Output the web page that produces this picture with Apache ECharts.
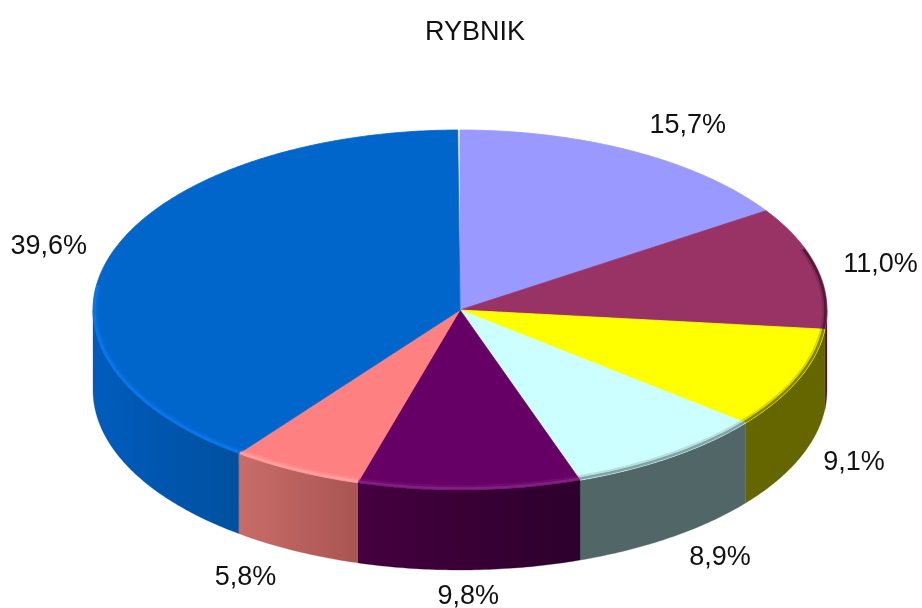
<!DOCTYPE html>
<html>
<head>
<meta charset="utf-8">
<title>RYBNIK</title>
<script src="https://cdn.jsdelivr.net/npm/echarts@6/dist/echarts.min.js"></script>
<style>
    html, body { margin: 0; padding: 0; background: #fff; }
    #chart { width: 922px; height: 608px; }
</style>
</head>
<body>
<div id="chart"></div>
<script>
// udzial procentowy, od godziny 12 zgodnie z zegarem
var chartTitle = 'RYBNIK';
var sliceValues = [15.7, 11.0, 9.1, 8.9, 9.8, 5.8, 39.6];

var topColors = ['#9999ff', '#993366', '#ffff00', '#ccffff', '#660066', '#ff8080', '#0066cc'];
var sideLeft = ['#5c5c99', '#5c1f3d', '#666600', '#516666', '#45003f', '#c96c69', '#005cbc'];
var sideRight = ['#5c5c99', '#4a1a38', '#666600', '#516666', '#2c002c', '#a95552', '#00509f'];
var rimColors = ['#9999ff', '#3d1429', '#5c5c00', '#6f8585', '#8a2a8a', '#ffaaaa', '#0a7cf4'];
// przesuniecie etykiety wzgledem krawedzi wycinka
var labelNudge = [[54, -26], [64, -3], [55, 84], [49, 100], [-1, 107], [-50, 107], [-63, -7]];

var cx = 460, cy = 310, rx = 367, ry = 180, depth = 80;

function pointAt(deg, a, b, dy) {
    var t = deg * Math.PI / 180;
    return [cx + a * Math.sin(t), cy - b * Math.cos(t) + dy];
}

function arcPoints(from, to, a, b, dy) {
    var pts = [];
    var n = Math.max(2, Math.ceil((to - from) * 1.5));
    for (var i = 0; i <= n; i++) {
        pts.push(pointAt(from + (to - from) * i / n, a, b, dy));
    }
    return pts;
}

var sliceData = [];
var acc = 0;
sliceValues.forEach(function (v, i) {
    var next = acc + v;
    sliceData.push([acc * 3.6, next * 3.6, i, v]);
    acc = next;
});

function renderSide(params, api) {
    var from = Math.max(api.value(0), 90);
    var to = Math.min(api.value(1), 270);
    var i = api.value(2);
    if (to <= from) { return null; }
    var upper = arcPoints(from, to, rx, ry, 0);
    var lower = arcPoints(from, to, rx, ry, depth).reverse();
    var xA = upper[0][0], xB = upper[upper.length - 1][0];
    // lewa strona jasniejsza
    var fill = new echarts.graphic.LinearGradient(Math.min(xA, xB), 0, Math.max(xA, xB), 0, [
        {offset: 0, color: sideLeft[i]},
        {offset: 1, color: sideRight[i]}
    ], true);
    return {
        type: 'polygon',
        shape: {points: upper.concat(lower)},
        style: {fill: fill, stroke: sideRight[i], lineWidth: 0.3}
    };
}

function renderTop(params, api) {
    var from = api.value(0), to = api.value(1), i = api.value(2);
    var pts = [[cx, cy]].concat(arcPoints(from, to, rx, ry, 0));
    return {
        type: 'polygon',
        shape: {points: pts},
        style: {fill: topColors[i], stroke: topColors[i], lineWidth: 0.8}
    };
}

function renderRim(params, api) {
    var from = Math.max(api.value(0), 70);
    var to = Math.min(api.value(1), 278);
    var i = api.value(2);
    if (to <= from) { return null; }
    return {
        type: 'group',
        children: [
            {
                type: 'polyline',
                shape: {points: arcPoints(from, to, rx - 3.5, ry - 3.5, 0)},
                style: {fill: null, stroke: rimColors[i], lineWidth: 3, opacity: 0.25}
            },
            {
                type: 'polyline',
                shape: {points: arcPoints(from, to, rx - 1.5, ry - 1.5, 0)},
                style: {fill: null, stroke: rimColors[i], lineWidth: 2.5, opacity: 0.75}
            }
        ]
    };
}

function renderLabel(params, api) {
    var mid = (api.value(0) + api.value(1)) / 2;
    var i = api.value(2);
    var base = pointAt(mid, rx, ry, 0);
    return {
        type: 'text',
        x: base[0] + labelNudge[i][0],
        y: base[1] + labelNudge[i][1],
        style: {
            text: api.value(3).toFixed(1).replace('.', ',') + '%',
            fill: '#111',
            font: '27px "Liberation Sans", Arial, sans-serif',
            align: 'center',
            verticalAlign: 'middle'
        }
    };
}

function layer(fn, z) {
    return {
        type: 'custom',
        coordinateSystem: 'none',
        renderItem: fn,
        data: sliceData,
        z: z,
        silent: true,
        animation: false
    };
}

var myChart = echarts.init(document.getElementById('chart'), null, {renderer: 'canvas'});
myChart.setOption({
    backgroundColor: '#fff',
    animation: false,
    title: {
        text: chartTitle,
        left: 470,
        top: 14,
        textAlign: 'center',
        textStyle: {color: '#111', fontWeight: 'normal', fontSize: 27, fontFamily: '"Liberation Sans", Arial, sans-serif'}
    },
    series: [
        layer(renderSide, 1),
        layer(renderTop, 2),
        layer(renderRim, 3),
        layer(renderLabel, 4)
    ]
});
window.addEventListener('resize', function () { myChart.resize(); });
</script>
</body>
</html>
